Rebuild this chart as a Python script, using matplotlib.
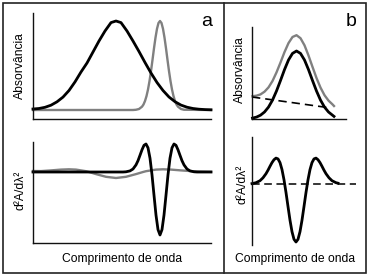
import matplotlib
matplotlib.use("Agg")
import matplotlib.pyplot as plt
from matplotlib.patches import Rectangle
from matplotlib.lines import Line2D

plt.rcParams['font.family'] = ['Liberation Sans', 'DejaVu Sans']

W, H = 370, 276

# ---------------- data (arbitrary units) ----------------
# Panel a, top: absorbance spectra
a_top_black_x = [0, 6, 12, 18, 24, 30, 36, 42, 48, 54, 60, 66, 72, 78, 83,
                 88, 94, 100, 106, 112, 118, 124, 130, 136, 142, 148, 154, 160, 166, 172, 178]
a_top_black_y = [10.0, 10.5, 11.7, 13.8, 17.2, 21.9, 28.5, 37.1, 47.0, 56.0, 67.0, 78.0, 88.0, 96.4, 98.0,
                 96.4, 88.0, 78.0, 67.5, 56.5, 46.0, 36.5, 28.5, 22.0, 17.3, 13.9, 11.8, 10.5, 9.8, 9.4, 9.2]

a_top_gray_x = [0, 100, 103, 106, 109, 110.5, 112, 113.5, 115, 116.5, 118, 119.5, 121, 122.5, 124, 125.5, 127,
                128.5, 130, 131.5, 133, 134.5, 136, 137.5, 139, 140.5, 142, 143.5, 145, 148, 151, 178]
a_top_gray_y = [9.0, 9.0, 9.25, 10.0, 12.3, 14.5, 18.0, 22.9, 29.5, 37.9, 47.9, 59.1, 70.7, 81.4, 90.2, 96.0, 98.0,
                96.0, 90.2, 81.4, 70.7, 59.1, 47.9, 37.9, 29.5, 22.9, 18.0, 14.5, 12.3, 10.0, 9.25, 9.0]

# Panel a, bottom: second derivatives
a_bot_black_x = [0, 90, 93, 97, 100, 103, 105, 107, 109, 111, 113, 115, 117, 119, 121, 123, 125, 127,
                 129, 131, 133, 135, 137, 139, 141, 143, 145, 147, 149, 151, 154, 157, 161, 164, 178]
a_bot_black_y = [0, 0, 0.2, 1.1, 3.0, 7.1, 11.3, 16.7, 22.2, 26.7, 28.0, 24.2, 13.8, -2.8, -23.2, -43.1, -57.6, -63.0,
                 -57.6, -43.1, -23.2, -2.8, 13.8, 24.2, 28.0, 26.7, 22.2, 16.7, 11.3, 7.1, 3.0, 1.1, 0.2, 0, 0]

a_bot_gray_x = [0, 8, 18, 28, 36, 43, 53, 56, 63, 73, 83, 93, 103, 110, 113, 123, 130, 138, 148, 158, 166, 178]
a_bot_gray_y = [1.0, 0.9, 1.6, 2.4, 2.7, 2.4, 0.8, 0.0, -2.1, -4.8, -6.0, -4.8, -2.1, 0.0, 0.8, 2.4, 2.7, 2.4,
                1.6, 0.9, 0.45, 0.15]

# Panel b, top: band, band + sloping baseline, baseline
b_top_x = [0.5, 4.5, 8.5, 12.5, 16.5, 20.5, 24.5, 28.5, 32.5, 36.5, 40.5, 44.5,
           48.5, 52.5, 56.5, 60.5, 64.5, 68.5, 72.5, 76.5, 80.5, 82]
b_top_black_y = [0.9, 1.9, 3.8, 7.0, 11.9, 18.9, 28.0, 38.5, 49.4, 59.0, 65.6, 68.0,
                 65.6, 59.0, 49.4, 38.5, 28.0, 18.9, 11.9, 7.0, 3.8, 2.6]
b_top_gray_y = [22.8, 23.3, 24.6, 27.3, 31.6, 38.0, 46.6, 56.5, 66.9, 75.9, 82.0, 83.8,
                80.8, 73.7, 63.5, 52.1, 41.0, 31.4, 23.8, 18.4, 14.6, 13.0]
b_base_x = [0, 79]
b_base_y = [22, 11]

# Panel b, bottom: second derivative
b_bot_x = [0, 4, 8, 11, 14, 16, 18, 20, 22, 24, 26, 28, 30, 32, 34, 36, 38, 40, 42, 44,
           46, 48, 50, 52, 54, 56, 58, 60, 62, 64, 66, 68, 70, 72, 74, 77, 80, 84, 86]
b_bot_y = [0.4, 1.3, 3.3, 6.2, 10.3, 13.8, 17.7, 21.4, 24.3, 25.9, 25.1, 21.4, 14.4, 4.2, -8.5, -22.5, -36.2, -47.7, -55.3, -58.0,
           -55.3, -47.7, -36.2, -22.5, -8.5, 4.2, 14.4, 21.4, 25.1, 25.9, 24.3, 21.4, 17.7, 13.8, 10.3, 6.2, 3.3, 1.3, 0.8]
b_zero_x = [0, 104]
b_zero_y = [0, 0]

xlabel_text = "Comprimento de onda"
ylabel_abs = "Absorvância"
ylabel_d2 = "d²A/dλ²"
panel_labels = ["a", "b"]

BLACK = "#000000"
GRAY = "#808080"
LW_BLACK = 2.0
LW_GRAY = 1.7

# ---------------- layout helpers ----------------
fig = plt.figure(figsize=(W / 100, H / 100), dpi=100)


def ax_px(left, top, right, bottom):
    return fig.add_axes([left / W, 1 - bottom / H, (right - left) / W, (bottom - top) / H])


def style(ax, xaxis=True):
    ax.patch.set_visible(False)
    for s in ["top", "right"]:
        ax.spines[s].set_visible(False)
    ax.spines["bottom"].set_visible(xaxis)
    for s in ["left", "bottom"]:
        ax.spines[s].set_linewidth(1.0)
        ax.spines[s].set_color("#111111")
    ax.set_xticks([])
    ax.set_yticks([])


def ftext(x, y, s, **kw):
    fig.text(x / W, 1 - y / H, s, ha="center", va="center", **kw)


# Panel a top
ax1 = ax_px(33, 13, 211, 119)
style(ax1)
ax1.plot(a_top_gray_x, a_top_gray_y, color=GRAY, lw=LW_GRAY, clip_on=False)
ax1.plot(a_top_black_x, a_top_black_y, color=BLACK, lw=LW_BLACK, clip_on=False)
ax1.set_xlim(0, 178)
ax1.set_ylim(0, 106)

# Panel a bottom
ax2 = ax_px(33, 142, 211, 243)
style(ax2)
ax2.plot(a_bot_gray_x, a_bot_gray_y, color=GRAY, lw=LW_GRAY, clip_on=False)
ax2.plot(a_bot_black_x, a_bot_black_y, color=BLACK, lw=LW_BLACK, clip_on=False)
ax2.set_xlim(0, 178)
ax2.set_ylim(-71, 30)

# Panel b top
ax3 = ax_px(252, 27, 346, 119)
style(ax3)
ax3.plot(b_top_x, b_top_gray_y, color=GRAY, lw=LW_GRAY, clip_on=False)
ax3.plot(b_base_x, b_base_y, color=BLACK, lw=1.2, dashes=(5, 3), clip_on=False)
ax3.plot(b_top_x, b_top_black_y, color=BLACK, lw=LW_BLACK, clip_on=False)
ax3.set_xlim(0, 94)
ax3.set_ylim(0, 92)

# Panel b bottom
ax4 = ax_px(252, 137, 357, 245)
style(ax4, xaxis=False)
ax4.plot(b_zero_x, b_zero_y, color=BLACK, lw=1.1, dashes=(5, 3), clip_on=False)
ax4.plot(b_bot_x, b_bot_y, color=BLACK, lw=LW_BLACK, clip_on=False)
ax4.set_xlim(0, 105)
ax4.set_ylim(-61, 47)

# Texts
FS = 8.7
ftext(20, 66, ylabel_abs, rotation=90, fontsize=FS)
ftext(20, 190, ylabel_d2, rotation=90, fontsize=FS)
ftext(240, 70, ylabel_abs, rotation=90, fontsize=FS)
ftext(243, 184, ylabel_d2, rotation=90, fontsize=FS)
ftext(122.5, 259, xlabel_text, fontsize=FS)
ftext(295.5, 259, xlabel_text, fontsize=FS)
ftext(207, 22, panel_labels[0], fontsize=14)
ftext(351, 22, panel_labels[1], fontsize=14)

# Outer frame and divider
fig.add_artist(Rectangle((3 / W, 1 - 273 / H), (366 - 3) / W, (273 - 3) / H,
                         transform=fig.transFigure, fill=False, lw=1.2, edgecolor="#222222"))
fig.add_artist(Line2D([224 / W, 224 / W], [1 - 273 / H, 1 - 3 / H],
                      transform=fig.transFigure, lw=1.2, color="#222222"))

fig.savefig("out.png", dpi=100)
